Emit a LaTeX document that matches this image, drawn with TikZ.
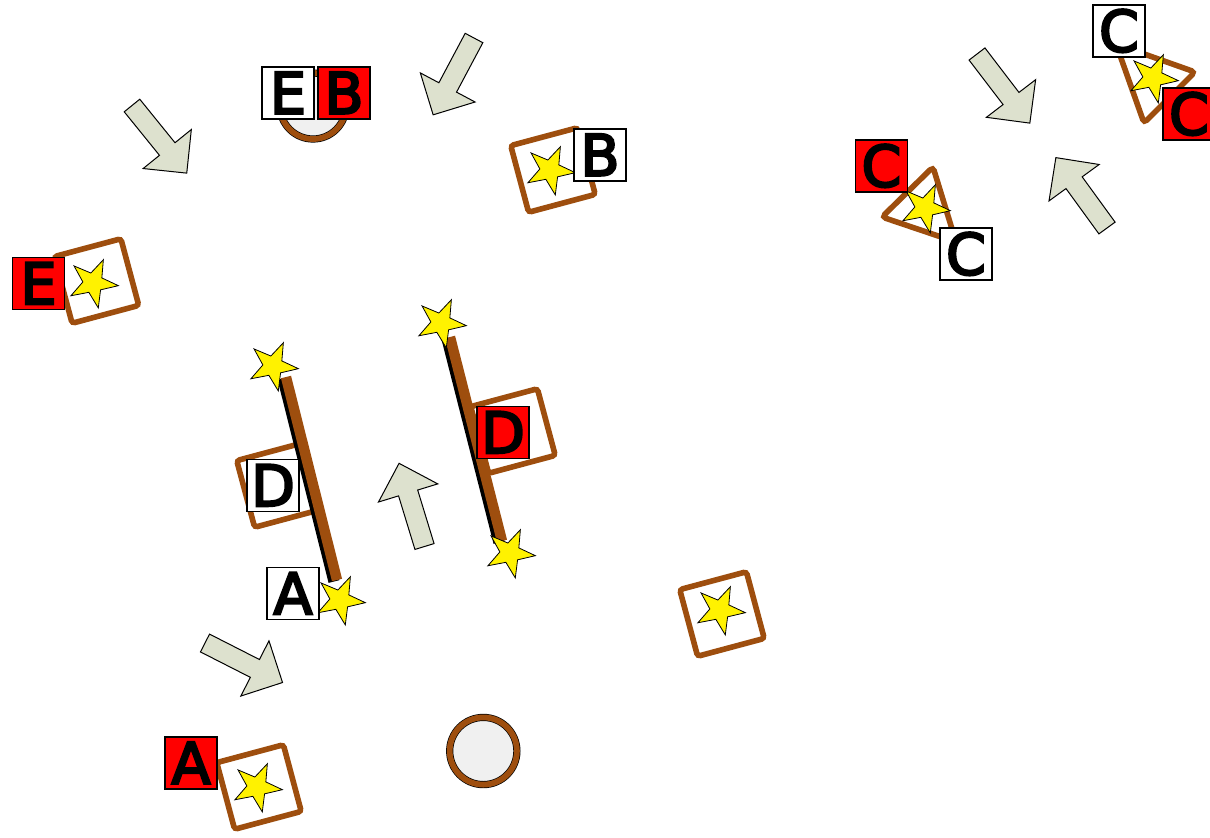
\documentclass[tikz,border=0pt]{standalone}
\usepackage{fontspec}
\setmainfont{DejaVu Sans}
\newfontfamily\labfont[FakeBold=4]{DejaVu Sans}
\definecolor{brn}{HTML}{9E4E0E}
\definecolor{arrfill}{HTML}{DDE1CE}
\definecolor{cfill}{HTML}{F0F0F0}
\tikzset{
  lab/.style={draw=black, line width=0.6pt, minimum size=26pt, inner sep=0pt,
    font=\labfont\fontsize{28.5}{28.5}\selectfont, text height=20.6pt, text depth=0pt},
  redlab/.style={lab, fill=red},
  whitelab/.style={lab, fill=white},
  frame/.style={draw=brn, line width=2.8pt, rounded corners=1.5pt},
  starsty/.style={fill=yellow, draw=black, line width=0.4pt, line join=miter},
  arrowsty/.style={fill=arrfill, draw=black, line width=0.5pt, line join=miter},
  barshadow/.style={draw=black, line width=5.6pt, line cap=butt},
  barsty/.style={draw=brn, line width=5.2pt, line cap=butt},
  ringblack/.style={draw=black, line width=3.6pt, fill=cfill},
  ringbrown/.style={draw=brn, line width=2.9pt},
}
\newcommand\mystar[2]{\draw[starsty, shift={(#1,#2)}] (-66:25.5) -- (-30:10.2) -- (6:25.5) -- (42:10.2) -- (78:25.5) -- (114:10.2) -- (150:25.5) -- (186:10.2) -- (222:25.5) -- (258:10.2) -- cycle;}
\newcommand\blockarrow[3]{\draw[arrowsty, shift={(#1,#2)}, rotate=#3] (0,-10) -- (56,-10) -- (56,-31) -- (87,0) -- (56,31) -- (56,10) -- (0,10) -- cycle;}
\newcommand\sqframe[2]{\draw[frame, shift={(#1,#2)}, rotate=15] (-34.5,-34.5) rectangle (34.5,34.5);}
\begin{document}
\begin{tikzpicture}[x=0.5pt, y=-0.5pt]
\useasboundingbox (0,0) rectangle (1210,837);
\fill[white] (0,0) rectangle (1210,837);

% block arrows
\blockarrow{132}{105.5}{-51}
\blockarrow{474}{38}{-118}
\blockarrow{977}{54}{-52.6}
\blockarrow{1107}{228}{126}
\blockarrow{424.5}{546.5}{107}
\blockarrow{205}{643}{-27}

% circles
\coordinate (c1) at (313,106);
\coordinate (c2) at (483.3,751);
\path[ringblack] (c1) circle (16.5pt);
\draw[ringbrown] (c1) circle (16.5pt);
\path[ringblack] (c2) circle (16.8pt);
\draw[ringbrown] (c2) circle (16.8pt);

% square frames
\sqframe{259}{787}
\sqframe{96.5}{281}
\sqframe{553}{170}
\sqframe{722}{614}
\sqframe{279}{485}
\sqframe{513}{431}

% triangles
\draw[frame, rounded corners=2pt] (1116,44) -- (1195,72) -- (1144,123) -- cycle;
\draw[frame, rounded corners=2pt] (882,217) -- (933,167) -- (956,242) -- cycle;

% bars
\coordinate (b1s) at (286,377);
\coordinate (b1e) at (337,580);
\coordinate (b2s) at (450,337);
\coordinate (b2e) at (502,541);
\draw[barshadow] ([shift={(-3,1.5)}]b1s) -- ([shift={(-3,1.5)}]b1e);
\draw[barsty] (b1s) -- (b1e);
\draw[barshadow] ([shift={(-3,1.5)}]b2s) -- ([shift={(-3,1.5)}]b2e);
\draw[barsty] (b2s) -- (b2e);

% stars
\mystar{257}{787}
\mystar{93}{283}
\mystar{550}{170}
\mystar{720}{610}
\mystar{1153}{78}
\mystar{925}{208}
\mystar{273}{366}
\mystar{340}{600}
\mystar{441}{323}
\mystar{510}{553}

% labels
\node[whitelab] (lE1) at (288,93) {E};
\node[redlab]   (lB1) at (344,93) {B};
\node[whitelab] (lB2) at (600,155) {B};
\node[redlab]   (lE2) at (38.5,283.5) {E};
\node[whitelab] (lD1) at (273,485.5) {D};
\node[whitelab] (lA1) at (293,593.5) {A};
\node[redlab]   (lD2) at (503,432.5) {D};
\node[redlab]   (lA2) at (191,763) {A};
\node[whitelab] (lC1) at (1119,31) {C};
\node[redlab]   (lC2) at (1189,114) {C};
\node[redlab]   (lC3) at (881.5,166) {C};
\node[whitelab] (lC4) at (966,254) {C};
\end{tikzpicture}
\end{document}
